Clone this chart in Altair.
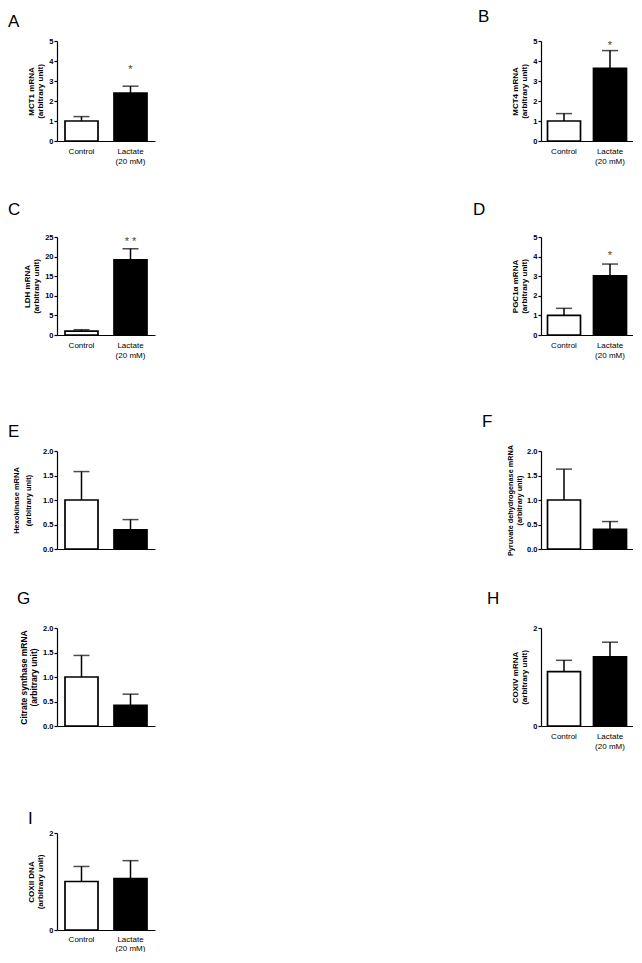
import altair as alt
import pandas as pd

# ---------------- data ----------------
groups = ["Control", "Lactate\n(20 mM)"]
bar_fill = ["white", "black"]

# A  MCT1 mRNA
mct1_mean = [1.00, 2.40]
mct1_upper = [1.22, 2.74]
# B  MCT4 mRNA
mct4_mean = [1.00, 3.63]
mct4_upper = [1.37, 4.52]
# C  LDH mRNA
ldh_mean = [1.00, 19.2]
ldh_upper = [1.35, 22.0]
# D  PGC1a mRNA
pgc_mean = [1.00, 3.02]
pgc_upper = [1.36, 3.62]
# E  Hexokinase mRNA
hk_mean = [1.00, 0.39]
hk_upper = [1.58, 0.60]
# F  Pyruvate dehydrogenase mRNA
pdh_mean = [1.00, 0.40]
pdh_upper = [1.63, 0.56]
# G  Citrate synthase mRNA
cs_mean = [1.00, 0.42]
cs_upper = [1.44, 0.65]
# H  COXIV mRNA
cox4_mean = [1.11, 1.41]
cox4_upper = [1.34, 1.71]
# I  COXII DNA
cox2_mean = [1.00, 1.06]
cox2_upper = [1.31, 1.43]

# significance marks (panels A-D) and their heights
star_text = ["*", "*", "* *", "*"]
star_pos = [3.72, 4.92, 24.4, 4.2]

FONT = "Liberation Sans"


def panel(letter, mean, upper, title, ymax, ystep, fmt, xlabels, h,
          ldx, ldy, w=98, tpad=4, tlh=9, tfs=8, lpad=6, llh=10, star=None, star_y=None):
    df = pd.DataFrame({"group": groups, "mean": mean, "upper": upper, "fill": bar_fill})
    n = int(round(ymax / ystep))
    tick_vals = [round(i * ystep, 3) for i in range(n + 1)]
    xenc = alt.X("group:N", sort=groups, title=None,
                 scale=alt.Scale(paddingInner=0, paddingOuter=0),
                 axis=alt.Axis(labels=xlabels, ticks=False, labelAngle=0, labelPadding=lpad,
                               labelFontSize=8, labelLineHeight=llh,
                               labelExpr="split(datum.label, '\\n')"))
    yscale = alt.Scale(domain=[0, ymax], nice=False, zero=True)
    yaxis = alt.Axis(title=title, values=tick_vals, format=fmt, tickSize=3, labelPadding=1,
                     labelFontSize=7.5, labelFontWeight="bold", titleFontSize=tfs,
                     titleFontWeight="bold", titlePadding=tpad, titleLineHeight=tlh, grid=False)
    base = alt.Chart(df)
    bars = base.mark_bar(size=33, stroke="black", strokeWidth=1.7).encode(
        x=xenc, y=alt.Y("mean:Q", scale=yscale, axis=yaxis),
        fill=alt.Fill("fill:N", scale=None))
    rule = base.mark_rule(color="black", strokeWidth=1.5).encode(
        x=xenc, y=alt.Y("mean:Q", scale=yscale, axis=yaxis), y2="upper:Q")
    cap = base.mark_tick(color="black", size=16, thickness=1.5).encode(
        x=xenc, y=alt.Y("upper:Q", scale=yscale, axis=yaxis))
    layers = [bars, rule, cap]
    if star is not None:
        sdf = pd.DataFrame({"group": [groups[1]], "pos": [star_y], "s": [star]})
        layers.append(alt.Chart(sdf).mark_text(fontSize=11, color="#444", baseline="alphabetic", dy=6).encode(
            x=xenc, y=alt.Y("pos:Q", scale=yscale, axis=yaxis), text="s:N"))
    lab = alt.Chart(pd.DataFrame({"t": [letter]})).mark_text(
        align="left", baseline="top", fontSize=17, color="black").encode(
        x=alt.value(ldx), y=alt.value(ldy), text="t:N")
    layers.append(lab)
    return alt.layer(*layers).properties(width=w, height=h)


def spacer(h):
    # narrow invisible cell: only its height matters for the grid rows
    return alt.Chart(pd.DataFrame({"t": [""]})).mark_text().encode(
        x=alt.value(0), y=alt.value(0), text="t:N").properties(width=1, height=h)


RW = 92  # right-column plot width (keeps the page from overflowing 642 px)

A = panel("A", mct1_mean, mct1_upper, ["MCT1 mRNA", "(arbitrary unit)"], 5, 1, "d", True, 100,
          -49, -27, star=star_text[0], star_y=star_pos[0])
B = panel("B", mct4_mean, mct4_upper, ["MCT4 mRNA", "(arbitrary unit)"], 5, 1, "d", True, 100,
          -63, -32, w=RW, star=star_text[1], star_y=star_pos[1])
C = panel("C", ldh_mean, ldh_upper, ["LDH mRNA", "(arbitrary unit)"], 25, 5, "d", True, 98,
          -49, -35, star=star_text[2], star_y=star_pos[2])
D = panel("D", pgc_mean, pgc_upper, ["PGC1\u03b1  mRNA", "(arbitrary unit)"], 5, 1, "d", True, 98,
          -68, -35, w=RW, star=star_text[3], star_y=star_pos[3])
E = panel("E", hk_mean, hk_upper, ["Hexokinase mRNA", "(arbitrary unit)"], 2, 0.5, ".1f", False, 98,
          -49, -27, tpad=10, tlh=12, tfs=7.5)
F = panel("F", pdh_mean, pdh_upper, ["Pyruvate dehydrogenase mRNA", "(arbitrary unit)"], 2, 0.5, ".1f",
          False, 98, -59, -37, w=RW, tpad=3, tfs=7.3)
G = panel("G", cs_mean, cs_upper, ["Citrate synthase mRNA", "(arbitrary unit)"], 2, 0.5, ".1f", False, 98,
          -40, -37, tpad=4, tlh=10, tfs=8.5)
H = panel("H", cox4_mean, cox4_upper, ["COXIV mRNA", "(arbitrary unit)"], 2, 1, "d", True, 98,
          -54, -37, w=RW)
I = panel("I", cox2_mean, cox2_upper, ["COXII DNA", "(arbitrary unit)"], 2, 1, "d", True, 97,
          -29, -22, lpad=5, llh=9)

items = [A, B, spacer(96), spacer(96), C, D, spacer(116), spacer(116), E, F,
         spacer(79), spacer(79), G, H, spacer(107), spacer(107), I]

chart = alt.concat(*items, columns=2, spacing={"row": 0, "column": 386}, bounds="flush").properties(
    padding=0
).configure(font=FONT).configure_view(strokeWidth=0).configure_axis(
    domainColor="black", tickColor="black", labelColor="black", titleColor="black",
    domainWidth=1.2, tickWidth=1.2, labelFont=FONT, titleFont=FONT
).configure_text(font=FONT)

chart.save("out.html", embed_options={"renderer": "svg", "actions": False})
